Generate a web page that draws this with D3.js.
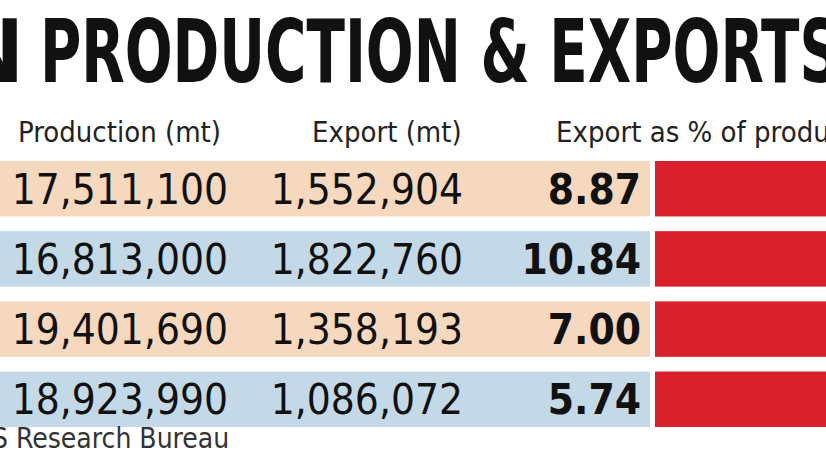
<!DOCTYPE html>
<html><head><meta charset="utf-8">
<script src="https://cdn.jsdelivr.net/npm/d3@7"></script>
<style>body{margin:0;background:#fff}svg{display:block}</style>
</head><body>
<svg id="c" width="826" height="465"></svg>
<script>
const production = ["17,511,100", "16,813,000", "19,401,690", "18,923,990"];
const exports_ = ["1,552,904", "1,822,760", "1,358,193", "1,086,072"];
const share = [8.87, 10.84, 7.00, 5.74];
const headers = ["Production (mt)", "Export (mt)", "Export as % of production"];
const bandColours = ["#f6d8bf", "#c4d9e7"];

const svg = d3.select("#c");
const font = "'DejaVu Sans Condensed', 'DejaVu Sans', sans-serif";

// Title (cropped at both edges in the original)
svg.append("text").attr("x", 24).attr("y", 82).attr("text-anchor", "end")
  .style("font", "bold 88px " + font).attr("fill", "#111").text("N");
svg.append("text").attr("x", 40).attr("y", 82)
  .attr("textLength", 800).attr("lengthAdjust", "spacingAndGlyphs")
  .style("font", "bold 88px " + font).attr("fill", "#111").text("PRODUCTION & EXPORTS");

// Headers
const hx = [18, 312, 556];
svg.selectAll("text.h").data(headers).enter().append("text")
  .attr("class", "h").attr("x", (d, i) => hx[i]).attr("y", 142)
  .style("font", "29px " + font).attr("fill", "#222").text(d => d);

const y = d3.scaleBand().domain(d3.range(share.length)).range([161, 427]).paddingInner(0.21).paddingOuter(0);
const x = d3.scaleLinear().domain([0, 10]).range([655, 1055]);

const rows = svg.selectAll("g.row").data(share).enter().append("g").attr("class", "row");
rows.append("rect").attr("x", 0).attr("width", 650)
  .attr("y", (d, i) => y(i)).attr("height", y.bandwidth())
  .attr("fill", (d, i) => bandColours[i % 2]);
rows.append("rect").attr("x", x(0)).attr("width", d => x(d) - x(0))
  .attr("y", (d, i) => y(i)).attr("height", y.bandwidth()).attr("fill", "#d9202b");

const ty = i => y(i) + y.bandwidth() / 2 + 15;
rows.append("text").attr("x", 228).attr("y", (d, i) => ty(i)).attr("text-anchor", "end")
  .style("font", "42px " + font).attr("fill", "#111").text((d, i) => production[i]);
rows.append("text").attr("x", 463).attr("y", (d, i) => ty(i)).attr("text-anchor", "end")
  .style("font", "42px " + font).attr("fill", "#111").text((d, i) => exports_[i]);
rows.append("text").attr("x", 641).attr("y", (d, i) => ty(i)).attr("text-anchor", "end")
  .style("font", "bold 42px " + font).attr("fill", "#111").text(d => d.toFixed(2));

svg.append("text").attr("x", -8).attr("y", 448)
  .style("font", "28px " + font).attr("fill", "#333").text("S Research Bureau");
</script>
</body></html>
